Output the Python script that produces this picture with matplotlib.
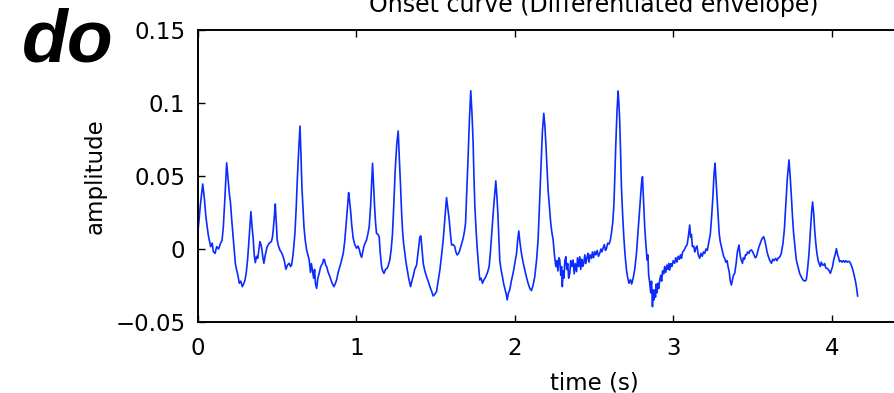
"""
Onset curve (differentiated envelope) - reproduceret i MATLAB-stil.
"""
import matplotlib
matplotlib.use("Agg")
import matplotlib.pyplot as plt

plt.rcParams["font.family"] = ["DejaVu Sans"]

# =============================================================================
# Data
# =============================================================================

TIME_S = [
    0.000, 0.015, 0.030, 0.040, 0.050, 0.065, 0.080, 0.090, 0.097, 0.108,
    0.118, 0.130, 0.143, 0.152, 0.160, 0.170, 0.181, 0.190, 0.198, 0.205,
    0.213, 0.222, 0.229, 0.236, 0.244, 0.252, 0.261, 0.270, 0.280, 0.288,
    0.297, 0.305, 0.313, 0.322, 0.334, 0.341, 0.349, 0.355, 0.362, 0.370,
    0.377, 0.384, 0.391, 0.398, 0.404, 0.410, 0.416, 0.425, 0.437, 0.450,
    0.463, 0.470, 0.475, 0.482, 0.488, 0.494, 0.500, 0.508, 0.517, 0.525,
    0.534, 0.545, 0.555, 0.565, 0.576, 0.584, 0.591, 0.600, 0.612, 0.620,
    0.627, 0.636, 0.644, 0.650, 0.656, 0.662, 0.669, 0.677, 0.686, 0.694,
    0.702, 0.710, 0.716, 0.724, 0.730, 0.736, 0.742, 0.749, 0.757, 0.765,
    0.775, 0.787, 0.793, 0.799, 0.806, 0.812, 0.822, 0.833, 0.845, 0.858,
    0.866, 0.875, 0.885, 0.896, 0.906, 0.917, 0.926, 0.934, 0.943, 0.951,
    0.957, 0.963, 0.971, 0.980, 0.990, 1.001, 1.010, 1.018, 1.026, 1.033,
    1.040, 1.047, 1.055, 1.064, 1.072, 1.081, 1.090, 1.102, 1.108, 1.115,
    1.121, 1.127, 1.136, 1.144, 1.150, 1.159, 1.166, 1.174, 1.184, 1.194,
    1.202, 1.211, 1.220, 1.228, 1.236, 1.245, 1.255, 1.264, 1.271, 1.279,
    1.285, 1.291, 1.298, 1.306, 1.313, 1.321, 1.330, 1.342, 1.350, 1.358,
    1.368, 1.380, 1.390, 1.401, 1.407, 1.414, 1.422, 1.432, 1.443, 1.453,
    1.464, 1.475, 1.485, 1.495, 1.506, 1.516, 1.527, 1.538, 1.548, 1.558,
    1.569, 1.578, 1.586, 1.594, 1.601, 1.611, 1.621, 1.628, 1.636, 1.645,
    1.653, 1.663, 1.674, 1.682, 1.689, 1.697, 1.706, 1.714, 1.722, 1.730,
    1.737, 1.742, 1.748, 1.755, 1.762, 1.770, 1.779, 1.787, 1.796, 1.806,
    1.817, 1.828, 1.838, 1.846, 1.853, 1.866, 1.880, 1.887, 1.893, 1.899,
    1.905, 1.913, 1.922, 1.930, 1.939, 1.946, 1.952, 1.960, 1.968, 1.978,
    1.989, 2.000, 2.011, 2.018, 2.025, 2.033, 2.042, 2.052, 2.063, 2.073,
    2.084, 2.095, 2.105, 2.115, 2.126, 2.137, 2.147, 2.155, 2.164, 2.174,
    2.183, 2.190, 2.196, 2.203, 2.210, 2.218, 2.225, 2.233, 2.242, 2.250,
    2.259, 2.265, 2.272, 2.278, 2.284, 2.290, 2.295, 2.300, 2.305, 2.310,
    2.316, 2.322, 2.328, 2.334, 2.340, 2.347, 2.353, 2.360, 2.368, 2.375,
    2.382, 2.390, 2.396, 2.403, 2.410, 2.416, 2.422, 2.428, 2.435, 2.442,
    2.448, 2.455, 2.462, 2.468, 2.475, 2.484, 2.490, 2.497, 2.505, 2.512,
    2.520, 2.528, 2.536, 2.544, 2.550, 2.557, 2.565, 2.572, 2.578, 2.586,
    2.595, 2.603, 2.610, 2.618, 2.625, 2.631, 2.637, 2.645, 2.652, 2.657,
    2.662, 2.668, 2.673, 2.680, 2.688, 2.696, 2.705, 2.713, 2.721, 2.730,
    2.738, 2.747, 2.757, 2.768, 2.778, 2.790, 2.800, 2.806, 2.812, 2.820,
    2.827, 2.835, 2.840, 2.845, 2.852, 2.858, 2.863, 2.869, 2.873, 2.878,
    2.883, 2.888, 2.893, 2.898, 2.904, 2.909, 2.915, 2.921, 2.927, 2.933,
    2.940, 2.946, 2.953, 2.960, 2.967, 2.972, 2.978, 2.985, 2.992, 3.000,
    3.009, 3.016, 3.024, 3.031, 3.039, 3.046, 3.052, 3.060, 3.068, 3.079,
    3.088, 3.096, 3.104, 3.110, 3.115, 3.121, 3.130, 3.136, 3.142, 3.150,
    3.158, 3.167, 3.175, 3.183, 3.191, 3.199, 3.207, 3.215, 3.222, 3.227,
    3.234, 3.241, 3.250, 3.258, 3.264, 3.270, 3.277, 3.284, 3.290, 3.297,
    3.304, 3.312, 3.318, 3.325, 3.332, 3.340, 3.346, 3.354, 3.360, 3.367,
    3.374, 3.380, 3.388, 3.397, 3.405, 3.415, 3.420, 3.425, 3.431, 3.437,
    3.443, 3.450, 3.456, 3.462, 3.470, 3.478, 3.486, 3.494, 3.502, 3.510,
    3.518, 3.525, 3.533, 3.540, 3.550, 3.560, 3.571, 3.580, 3.592, 3.600,
    3.610, 3.620, 3.628, 3.636, 3.647, 3.655, 3.664, 3.672, 3.682, 3.693,
    3.702, 3.710, 3.720, 3.731, 3.738, 3.746, 3.753, 3.760, 3.768, 3.777,
    3.787, 3.798, 3.808, 3.819, 3.830, 3.840, 3.848, 3.857, 3.866, 3.874,
    3.880, 3.887, 3.893, 3.900, 3.907, 3.915, 3.921, 3.928, 3.935, 3.942,
    3.949, 3.956, 3.963, 3.970, 3.978, 3.985, 3.992, 4.000, 4.006, 4.013,
    4.022, 4.030, 4.038, 4.044, 4.050, 4.058, 4.066, 4.074, 4.082, 4.090,
    4.098, 4.106, 4.113, 4.120, 4.127, 4.134, 4.142, 4.151, 4.158, 4.164,
]

AMPLITUDE = [
    0.0120, 0.0300, 0.0445, 0.0350, 0.0220, 0.0096, 0.0016, 0.0040, -0.0018, -0.0030,
    0.0016, 0.0000, 0.0040, 0.0060, 0.0150, 0.0350, 0.0590, 0.0480, 0.0380, 0.0320,
    0.0200, 0.0080, -0.0007, -0.0100, -0.0144, -0.0180, -0.0235, -0.0220, -0.0258, -0.0240,
    -0.0212, -0.0160, -0.0075, 0.0060, 0.0256, 0.0160, 0.0062, -0.0040, -0.0094, -0.0050,
    -0.0064, -0.0010, 0.0050, 0.0030, -0.0007, -0.0060, -0.0098, -0.0040, 0.0016, 0.0040,
    0.0050, 0.0080, 0.0130, 0.0220, 0.0308, 0.0180, 0.0062, 0.0020, -0.0007, -0.0020,
    -0.0041, -0.0080, -0.0139, -0.0110, -0.0098, -0.0120, -0.0110, -0.0040, 0.0107, 0.0280,
    0.0473, 0.0680, 0.0842, 0.0650, 0.0427, 0.0300, 0.0153, 0.0060, -0.0007, -0.0040,
    -0.0075, -0.0160, -0.0100, -0.0155, -0.0200, -0.0140, -0.0240, -0.0270, -0.0200, -0.0167,
    -0.0120, -0.0098, -0.0070, -0.0075, -0.0110, -0.0120, -0.0160, -0.0190, -0.0230, -0.0258,
    -0.0240, -0.0212, -0.0160, -0.0120, -0.0080, -0.0030, 0.0050, 0.0153, 0.0280, 0.0386,
    0.0330, 0.0267, 0.0160, 0.0073, 0.0030, 0.0005, 0.0020, 0.0000, -0.0040, -0.0057,
    -0.0020, 0.0016, 0.0040, 0.0062, 0.0100, 0.0153, 0.0300, 0.0587, 0.0450, 0.0290,
    0.0180, 0.0107, 0.0100, 0.0084, -0.0020, -0.0120, -0.0150, -0.0167, -0.0140, -0.0132,
    -0.0110, -0.0075, 0.0000, 0.0107, 0.0300, 0.0540, 0.0720, 0.0808, 0.0620, 0.0427,
    0.0260, 0.0130, 0.0040, -0.0030, -0.0090, -0.0144, -0.0200, -0.0258, -0.0220, -0.0190,
    -0.0140, -0.0110, -0.0020, 0.0084, 0.0089, 0.0000, -0.0098, -0.0150, -0.0190, -0.0220,
    -0.0258, -0.0290, -0.0322, -0.0310, -0.0292, -0.0220, -0.0144, -0.0040, 0.0062, 0.0200,
    0.0352, 0.0270, 0.0199, 0.0100, 0.0027, 0.0030, 0.0016, -0.0020, -0.0041, -0.0030,
    -0.0007, 0.0030, 0.0073, 0.0120, 0.0176, 0.0400, 0.0655, 0.0900, 0.1084, 0.0920,
    0.0724, 0.0500, 0.0290, 0.0140, 0.0016, -0.0100, -0.0212, -0.0200, -0.0235, -0.0210,
    -0.0190, -0.0160, -0.0120, -0.0020, 0.0084, 0.0280, 0.0466, 0.0360, 0.0244, 0.0080,
    -0.0075, -0.0140, -0.0190, -0.0240, -0.0281, -0.0310, -0.0349, -0.0300, -0.0281, -0.0220,
    -0.0167, -0.0100, -0.0030, 0.0060, 0.0123, 0.0040, -0.0030, -0.0090, -0.0144, -0.0190,
    -0.0235, -0.0270, -0.0285, -0.0250, -0.0190, -0.0080, 0.0062, 0.0280, 0.0540, 0.0800,
    0.0929, 0.0840, 0.0724, 0.0560, 0.0404, 0.0300, 0.0199, 0.0120, 0.0062, -0.0040,
    -0.0120, -0.0080, -0.0150, -0.0060, -0.0075, -0.0180, -0.0120, -0.0258, -0.0150, -0.0200,
    -0.0080, -0.0053, -0.0140, -0.0100, -0.0200, -0.0167, -0.0080, -0.0120, -0.0075, -0.0170,
    -0.0100, -0.0155, -0.0060, -0.0120, -0.0053, -0.0140, -0.0070, -0.0120, -0.0098, -0.0040,
    -0.0100, -0.0060, -0.0030, -0.0090, -0.0040, -0.0064, -0.0020, -0.0060, -0.0018, -0.0040,
    -0.0010, -0.0050, -0.0030, 0.0000, -0.0020, 0.0005, 0.0030, -0.0010, 0.0000, 0.0040,
    0.0034, 0.0060, 0.0107, 0.0180, 0.0290, 0.0480, 0.0700, 0.0940, 0.1082, 0.1000,
    0.0884, 0.0650, 0.0427, 0.0250, 0.0084, -0.0040, -0.0144, -0.0200, -0.0235, -0.0210,
    -0.0240, -0.0201, -0.0140, -0.0030, 0.0120, 0.0300, 0.0450, 0.0495, 0.0350, 0.0153,
    0.0040, -0.0075, -0.0040, -0.0180, -0.0235, -0.0300, -0.0220, -0.0395, -0.0280, -0.0350,
    -0.0281, -0.0330, -0.0240, -0.0300, -0.0235, -0.0270, -0.0212, -0.0180, -0.0220, -0.0150,
    -0.0170, -0.0120, -0.0160, -0.0110, -0.0140, -0.0100, -0.0144, -0.0100, -0.0120, -0.0080,
    -0.0098, -0.0060, -0.0090, -0.0050, -0.0070, -0.0040, -0.0064, -0.0020, -0.0010, 0.0016,
    0.0030, 0.0090, 0.0164, 0.0080, 0.0100, 0.0016, 0.0020, -0.0020, 0.0005, 0.0020,
    -0.0040, -0.0064, -0.0030, -0.0050, -0.0020, -0.0030, 0.0000, -0.0010, 0.0030, 0.0062,
    0.0100, 0.0199, 0.0350, 0.0520, 0.0587, 0.0480, 0.0358, 0.0220, 0.0107, 0.0050,
    0.0016, -0.0020, -0.0050, -0.0064, -0.0090, -0.0080, -0.0120, -0.0160, -0.0220, -0.0247,
    -0.0210, -0.0180, -0.0167, -0.0100, -0.0020, 0.0027, -0.0020, -0.0060, -0.0080, -0.0098,
    -0.0060, -0.0070, -0.0040, -0.0041, -0.0020, -0.0030, -0.0010, -0.0007, -0.0020, -0.0040,
    -0.0060, -0.0053, -0.0020, 0.0010, 0.0039, 0.0070, 0.0084, 0.0050, -0.0018, -0.0050,
    -0.0080, -0.0098, -0.0070, -0.0080, -0.0064, -0.0080, -0.0060, -0.0057, -0.0030, 0.0039,
    0.0140, 0.0290, 0.0480, 0.0610, 0.0500, 0.0358, 0.0220, 0.0107, 0.0020, -0.0075,
    -0.0120, -0.0167, -0.0190, -0.0212, -0.0220, -0.0212, -0.0140, -0.0030, 0.0120, 0.0260,
    0.0322, 0.0240, 0.0130, 0.0040, -0.0030, -0.0080, -0.0100, -0.0120, -0.0090, -0.0110,
    -0.0110, -0.0100, -0.0130, -0.0132, -0.0140, -0.0150, -0.0167, -0.0140, -0.0120, -0.0075,
    -0.0040, 0.0002, -0.0040, -0.0060, -0.0087, -0.0080, -0.0090, -0.0080, -0.0090, -0.0080,
    -0.0090, -0.0085, -0.0087, -0.0100, -0.0120, -0.0144, -0.0180, -0.0224, -0.0270, -0.0322,
]

X_TICKS = [0, 1, 2, 3, 4]
Y_TICKS = [-0.05, 0, 0.05, 0.1, 0.15]
Y_TICK_LABELS = ["\u22120.05", "0", "0.05", "0.1", "0.15"]

TITLE = "Onset curve (Differentiated envelope)"
CORNER_TEXT = "do"

# =============================================================================
# Figur
# =============================================================================

fig = plt.figure(figsize=(8.95, 3.93), dpi=100)
# akserne går ud over højre kant (som i originalen, xlim 0..5)
ax = fig.add_axes([0.2212, 0.1807, 0.885, 0.743])

ax.plot(TIME_S, AMPLITUDE, color="#0a2cff", linewidth=1.2)

ax.set_xlim(0, 5)
ax.set_ylim(-0.05, 0.15)
ax.set_xticks(X_TICKS)
ax.set_xticklabels([str(t) for t in X_TICKS])
ax.set_yticks(Y_TICKS)
ax.set_yticklabels(Y_TICK_LABELS)

ax.tick_params(direction="in", length=5, width=1.0, labelsize=16.5,
               top=True, right=True)
ax.tick_params(axis="x", pad=11)
ax.tick_params(axis="y", pad=9)
for side in ax.spines.values():
    side.set_linewidth(1.4)

ax.set_xlabel("time (s)", fontsize=16.5, labelpad=8)
ax.set_ylabel("amplitude", fontsize=16.5, labelpad=6)
ax.set_title(TITLE, fontsize=17, pad=13)

fig.text(0.024, 0.843, CORNER_TEXT, fontsize=54, fontweight="bold",
         fontstyle="italic", family="Liberation Sans",
         ha="left", va="baseline")

fig.savefig("out.png", dpi=100)
plt.close(fig)
